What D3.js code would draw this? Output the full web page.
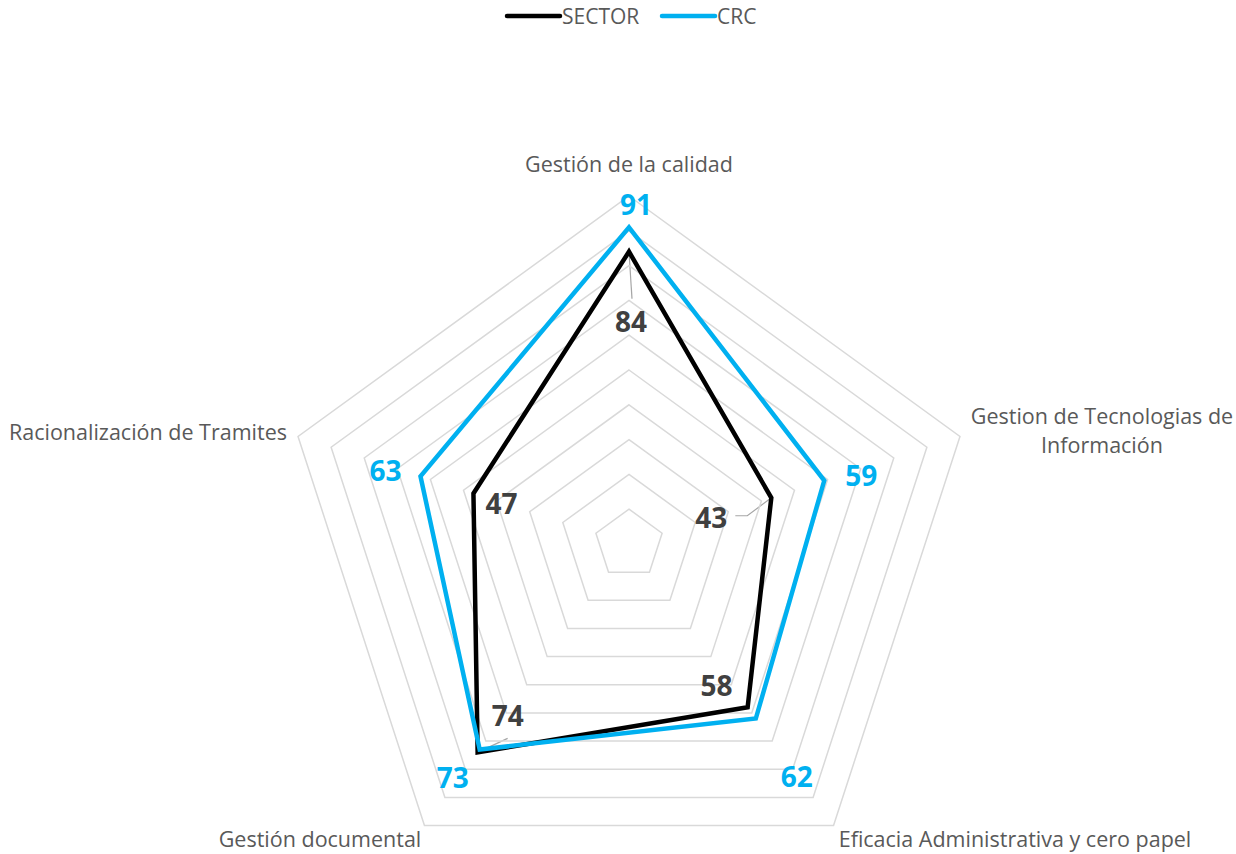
<!DOCTYPE html>
<html>
<head>
<meta charset="utf-8">
<script src="https://cdn.jsdelivr.net/npm/d3@7"></script>
<style>
  body { margin: 0; background: #fff; }
  text { font-family: "Open Sans", Lato, sans-serif; }
</style>
</head>
<body>
<script>
// data
const categories = ["Gestión de la calidad", "Gestion de Tecnologias de Información", "Eficacia Administrativa y cero papel", "Gestión documental", "Racionalización de Tramites"];
const sectorValues = [84, 43, 58, 74, 47];
const crcValues = [91, 59, 62, 73, 63];
const gridTicks = [10, 20, 30, 40, 50, 60, 70, 80, 90, 100];

const width = 1236, height = 854;
const cx = 629, cy = 544;

const svg = d3.select("body").append("svg")
  .attr("width", width)
  .attr("height", height);

const rScale = d3.scaleLinear().domain([0, 100]).range([0, 348]);
const angle = i => i * 2 * Math.PI / categories.length;

const g = svg.append("g").attr("transform", `translate(${cx}, ${cy})`);

// gridlines
const radial = d3.lineRadial()
  .angle((d, i) => angle(i))
  .radius(d => rScale(d))
  .curve(d3.curveLinearClosed);

g.selectAll(".grid")
  .data(gridTicks)
  .enter().append("path")
  .attr("class", "grid")
  .attr("d", t => radial(categories.map(() => t)))
  .attr("fill", "none")
  .attr("stroke", "#d9d9d9")
  .attr("stroke-width", 1.5);

// axis labels
const pt = (i, v) => {
  const a = angle(i), r = rScale(v);
  return [r * Math.sin(a), -r * Math.cos(a)];
};
const catPos = [
  { x: 0, y: -372 },
  { x: 473, y: -120 },
  { x: 386, y: 303 },
  { x: -309, y: 303 },
  { x: -481, y: -104 }
];
const catLines = [["Gestión de la calidad"], ["Gestion de Tecnologias de", "Información"], ["Eficacia Administrativa y cero papel"], ["Gestión documental"], ["Racionalización de Tramites"]];
categories.forEach((c, i) => {
  const t = g.append("text")
    .attr("x", catPos[i].x)
    .attr("y", catPos[i].y)
    .attr("text-anchor", "middle")
    .attr("fill", "#595959")
    .style("font-size", "21.5px");
  catLines[i].forEach((l, j) => {
    t.append("tspan").attr("x", catPos[i].x).attr("dy", j === 0 ? 0 : 29).text(l);
  });
});

// series
const series = [
  { name: "SECTOR", values: sectorValues, color: "#000000", labelColor: "#404040" },
  { name: "CRC", values: crcValues, color: "#00b0f0", labelColor: "#00b0f0" }
];

series.forEach(s => {
  g.append("path")
    .attr("d", radial(s.values))
    .attr("fill", "none")
    .attr("stroke", s.color)
    .attr("stroke-width", 4.5)
    .attr("stroke-linejoin", "miter");
});

// data labels (offsets of label centre from the point, in px)
const labelOffsets = {
  SECTOR: [[2, 70], [-60, 20], [-31, -21], [30, -36], [28, 11]],
  CRC: [[7, -22], [37, -5], [41, 58], [-27, 28], [-35, -5]]
};
const leaders = {
  SECTOR: [[[0, 0], [3, 47]], [[0, 0], [-24, 18], [-36, 18]], null, [[0, 0], [30, -14]], null]
};

series.forEach(s => {
  s.values.forEach((v, i) => {
    const [px, py] = pt(i, v);
    const off = labelOffsets[s.name][i];
    const ld = leaders[s.name] && leaders[s.name][i];
    if (ld) {
      g.insert("path", ":first-child")
        .attr("d", d3.line()(ld.map(p => [px + p[0], py + p[1]])))
        .attr("fill", "none")
        .attr("stroke", "#a6a6a6")
        .attr("stroke-width", 1.2);
    }
    g.append("text")
      .attr("x", px + off[0])
      .attr("y", py + off[1])
      .attr("dy", "0.357em")
      .attr("text-anchor", "middle")
      .attr("fill", s.labelColor)
      .style("font-size", "28px")
      .style("font-weight", "bold")
      .text(v);
  });
});

// legend
const legend = svg.append("g").attr("transform", "translate(507, 16)");
const legendX = [0, 155];
series.forEach((s, i) => {
  const lg = legend.append("g").attr("transform", `translate(${legendX[i]}, 0)`);
  lg.append("line")
    .attr("x1", 0).attr("x2", 53)
    .attr("y1", 0).attr("y2", 0)
    .attr("stroke", s.color)
    .attr("stroke-width", 4.5)
    .attr("stroke-linecap", "round");
  lg.append("text")
    .attr("x", 55)
    .attr("y", 0)
    .attr("dy", "0.357em")
    .attr("fill", "#595959")
    .style("font-size", "21px")
    .text(s.name);
});
</script>
</body>
</html>
